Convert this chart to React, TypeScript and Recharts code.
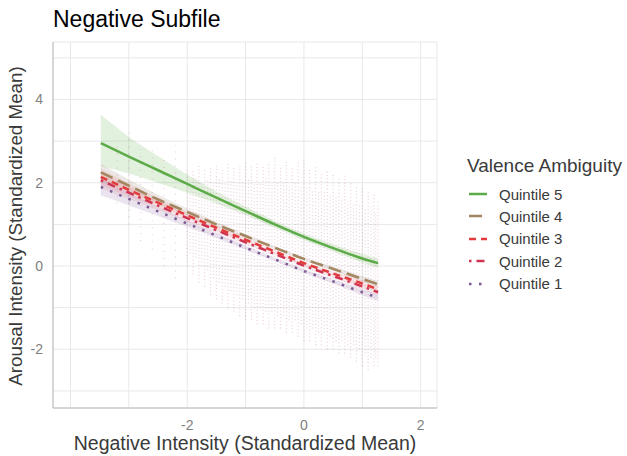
import React from 'react'
import {
  ComposedChart,
  Line,
  Area,
  Scatter,
  ErrorBar,
  XAxis,
  YAxis,
  CartesianGrid
} from 'recharts'

// fitted curves at these x positions
const curveX = [-3.48, -3, -2.5, -2, -1.5, -1, -0.5, 0, 0.5, 1, 1.27]
const q5 = [2.95, 2.63, 2.3, 1.97, 1.64, 1.32, 1.0, 0.7, 0.43, 0.18, 0.07]
const q5Lo = [2.4, 2.22, 2.0, 1.76, 1.5, 1.22, 0.92, 0.62, 0.35, 0.08, -0.04]
const q5Hi = [3.63, 3.1, 2.64, 2.19, 1.79, 1.43, 1.09, 0.78, 0.52, 0.29, 0.18]
const q4 = [2.25, 1.93, 1.6, 1.3, 1.0, 0.72, 0.44, 0.17, -0.07, -0.31, -0.44]
const q3 = [2.14, 1.83, 1.52, 1.22, 0.92, 0.63, 0.35, 0.07, -0.18, -0.42, -0.56]
const q2 = [2.06, 1.76, 1.45, 1.15, 0.86, 0.57, 0.29, 0.01, -0.24, -0.49, -0.63]
const q1 = [1.9, 1.61, 1.31, 1.02, 0.73, 0.44, 0.16, -0.12, -0.37, -0.63, -0.76]
const bandMargin = [0.2, 0.15, 0.11, 0.08, 0.06, 0.05, 0.04, 0.04, 0.05, 0.07, 0.08]

// raw item cloud: vertical extent of the dot columns
const cloudX = [
  -2.0, -1.9, -1.8, -1.7, -1.6, -1.5, -1.4, -1.3, -1.2, -1.1, -1.0, -0.9, -0.8, -0.7, -0.6, -0.5, -0.4,
  -0.3, -0.2, -0.1, 0.0, 0.1, 0.2, 0.3, 0.4, 0.5, 0.6, 0.7, 0.8, 0.9, 1.0, 1.1, 1.2, 1.27
]
const cloudLo = [
  0.0, -0.2, -0.4, -0.5, -0.7, -0.8, -0.9, -1.0, -1.1, -1.2, -1.3, -1.3, -1.4, -1.4, -1.5, -1.5, -1.5,
  -1.6, -1.6, -1.7, -1.8, -1.8, -1.9, -1.9, -2.0, -2.0, -2.1, -2.1, -2.2, -2.3, -2.4, -2.5, -2.4, -2.4
]
const cloudHi = [
  2.3, 2.3, 2.4, 2.3, 2.4, 2.4, 2.3, 2.5, 2.4, 2.4, 2.5, 2.4, 2.5, 2.4, 2.5, 2.6, 2.4,
  2.5, 2.4, 2.5, 2.6, 2.3, 2.4, 2.2, 2.3, 2.2, 2.1, 2.2, 2.0, 1.9, 1.9, 1.8, 1.7, 1.6
]
// in-between columns, where the dots are packed around the fits
const innerX = [
  -1.95, -1.85, -1.75, -1.65, -1.55, -1.45, -1.35, -1.25, -1.15, -1.05, -0.95, -0.85, -0.75, -0.65, -0.55, -0.45,
  -0.35, -0.25, -0.15, -0.05, 0.05, 0.15, 0.25, 0.35, 0.45, 0.55, 0.65, 0.75, 0.85, 0.95, 1.05, 1.15, 1.23
]
const innerLo = [
  0.3, 0.2, 0.0, -0.1, -0.3, -0.4, -0.5, -0.6, -0.7, -0.8, -0.9, -1.0, -1.0, -1.1, -1.1, -1.2,
  -1.2, -1.3, -1.3, -1.4, -1.5, -1.5, -1.6, -1.6, -1.7, -1.8, -1.8, -1.9, -1.9, -2.0, -2.1, -2.2, -2.2
]
const innerHi = [
  2.0, 2.1, 2.0, 2.1, 2.0, 2.1, 2.0, 2.1, 2.0, 2.0, 2.1, 2.0, 2.0, 2.1, 2.0, 2.0,
  2.0, 1.9, 2.0, 1.9, 1.9, 1.8, 1.8, 1.8, 1.7, 1.7, 1.6, 1.6, 1.5, 1.5, 1.4, 1.4, 1.3
]
const sparseX = [-3.2, -3.0, -2.8, -2.6, -2.4, -2.2]
const sparseLo = [1.5, 1.0, 0.6, 0.4, 0.0, -0.3]
const sparseHi = [3.0, 3.2, 2.8, 2.9, 2.7, 2.9]

// grid breaks (major + minor); only the labelled ones get text
const gridX = [-4, -3, -2, -1, 0, 1, 2]
const gridY = [-3, -2, -1, 0, 1, 2, 3, 4, 5]
const xLabels = [-2, 0, 2]
const yLabels = [-2, 0, 2, 4]

const series = [
  { key: 'q5', name: 'Quintile 5', color: '#5cab48', dash: undefined },
  { key: 'q4', name: 'Quintile 4', color: '#a3865f', dash: '13 6' },
  { key: 'q3', name: 'Quintile 3', color: '#e23b3b', dash: '7 5' },
  { key: 'q2', name: 'Quintile 2', color: '#cf3350', dash: '2.5 5 8 5' },
  { key: 'q1', name: 'Quintile 1', color: '#7b5a95', dash: '2.5 7.5' }
]

const curveData = curveX.map((x, i) => ({
  x,
  q5: q5[i],
  q4: q4[i],
  q3: q3[i],
  q2: q2[i],
  q1: q1[i],
  q5Band: [q5Lo[i], q5Hi[i]],
  q4Band: [q4[i] - bandMargin[i], q4[i] + bandMargin[i]],
  q3Band: [q3[i] - bandMargin[i], q3[i] + bandMargin[i]],
  q2Band: [q2[i] - bandMargin[i], q2[i] + bandMargin[i]],
  q1Band: [q1[i] - bandMargin[i], q1[i] + bandMargin[i]]
}))

const toColumns = (xs: number[], lo: number[], hi: number[]) =>
  xs.map((x, i) => ({ x, y: lo[i], err: [0, hi[i] - lo[i]] }))

const cloudData = toColumns(cloudX, cloudLo, cloudHi)
const innerData = toColumns(innerX, innerLo, innerHi)
const sparseData = toColumns(sparseX, sparseLo, sparseHi)

const font = '"Liberation Sans", Arial, sans-serif'
const noDot = () => <g />

const App = () => {
  return (
    <div style={{ position: 'absolute', left: 0, top: 0, width: 627, height: 456, background: '#fff', fontFamily: font }}>
      <div style={{ position: 'absolute', left: 53, top: 8, fontSize: 23, lineHeight: '23px', color: '#000' }}>
        Negative Subfile
      </div>
      <ComposedChart
        width={627}
        height={456}
        data={curveData}
        margin={{ top: 42, right: 190, bottom: 18, left: 13 }}
        style={{ fontFamily: font }}
      >
        <CartesianGrid stroke="#e8e8e8" strokeWidth={1} />
        <XAxis
          type="number"
          dataKey="x"
          domain={[-4.3, 2.28]}
          ticks={gridX}
          tickFormatter={(v: number) => (xLabels.includes(v) ? String(v) : '')}
          allowDataOverflow
          height={30}
          tickLine={false}
          tickSize={0}
          tickMargin={12}
          axisLine={{ stroke: '#cccccc', strokeWidth: 1.5 }}
          tick={{ fill: '#7f7f7f', fontSize: 14 }}
        />
        <YAxis
          type="number"
          domain={[-3.41, 5.38]}
          ticks={gridY}
          tickFormatter={(v: number) => (yLabels.includes(v) ? String(v) : '')}
          allowDataOverflow
          width={40}
          tickLine={false}
          tickSize={0}
          tickMargin={10}
          axisLine={{ stroke: '#cccccc', strokeWidth: 1.5 }}
          tick={{ fill: '#7f7f7f', fontSize: 14 }}
        />
        <Scatter data={sparseData} dataKey="y" shape={noDot} isAnimationActive={false} legendType="none">
          <ErrorBar dataKey="err" direction="y" width={0} stroke="#c05a80" strokeWidth={1.2} strokeDasharray="1 6" strokeOpacity={0.3} />
        </Scatter>
        <Scatter data={cloudData} dataKey="y" shape={noDot} isAnimationActive={false} legendType="none">
          <ErrorBar dataKey="err" direction="y" width={0} stroke="#b8557f" strokeWidth={1.1} strokeDasharray="1 2.4" strokeOpacity={0.3} />
        </Scatter>
        <Scatter data={innerData} dataKey="y" shape={noDot} isAnimationActive={false} legendType="none">
          <ErrorBar dataKey="err" direction="y" width={0} stroke="#a85a8f" strokeWidth={1.1} strokeDasharray="1 2.4" strokeOpacity={0.28} />
        </Scatter>
        <Area type="monotone" dataKey="q5Band" stroke="none" fill="#5cab48" fillOpacity={0.18} isAnimationActive={false} />
        <Area type="monotone" dataKey="q4Band" stroke="none" fill="#8f8170" fillOpacity={0.18} isAnimationActive={false} />
        <Area type="monotone" dataKey="q3Band" stroke="none" fill="#e23b3b" fillOpacity={0.1} isAnimationActive={false} />
        <Area type="monotone" dataKey="q2Band" stroke="none" fill="#cf3350" fillOpacity={0.1} isAnimationActive={false} />
        <Area type="monotone" dataKey="q1Band" stroke="none" fill="#7b5a95" fillOpacity={0.16} isAnimationActive={false} />
        {series
          .slice()
          .reverse()
          .map((s) => (
            <Line
              key={s.key}
              type="monotone"
              dataKey={s.key}
              stroke={s.color}
              strokeWidth={2.5}
              strokeDasharray={s.dash}
              dot={false}
              activeDot={false}
              isAnimationActive={false}
            />
          ))}
      </ComposedChart>
      <div
        style={{
          position: 'absolute',
          left: 245,
          top: 443,
          transform: 'translate(-50%, -50%)',
          whiteSpace: 'nowrap',
          fontSize: 19.5,
          color: '#3a3a3a'
        }}
      >
        Negative Intensity (Standardized Mean)
      </div>
      <div
        style={{
          position: 'absolute',
          left: 16,
          top: 226,
          transform: 'translate(-50%, -50%) rotate(-90deg)',
          whiteSpace: 'nowrap',
          fontSize: 18.8,
          color: '#3a3a3a'
        }}
      >
        Arousal Intensity (Standardized Mean)
      </div>
      <div style={{ position: 'absolute', left: 467, top: 155, fontSize: 19, lineHeight: '22px', color: '#3a3a3a' }}>
        Valence Ambiguity
      </div>
      {series.map((s, i) => (
        <div
          key={s.key}
          style={{ position: 'absolute', left: 466, top: 183 + i * 22.4, height: 22, display: 'flex', alignItems: 'center' }}
        >
          <svg width={24} height={22}>
            <line x1={3} x2={21} y1={11} y2={11} stroke={s.color} strokeWidth={2.5} strokeDasharray={s.dash} />
          </svg>
          <span style={{ marginLeft: 9, fontSize: 15, color: '#3a3a3a' }}>{s.name}</span>
        </div>
      ))}
    </div>
  )
}

export default App
